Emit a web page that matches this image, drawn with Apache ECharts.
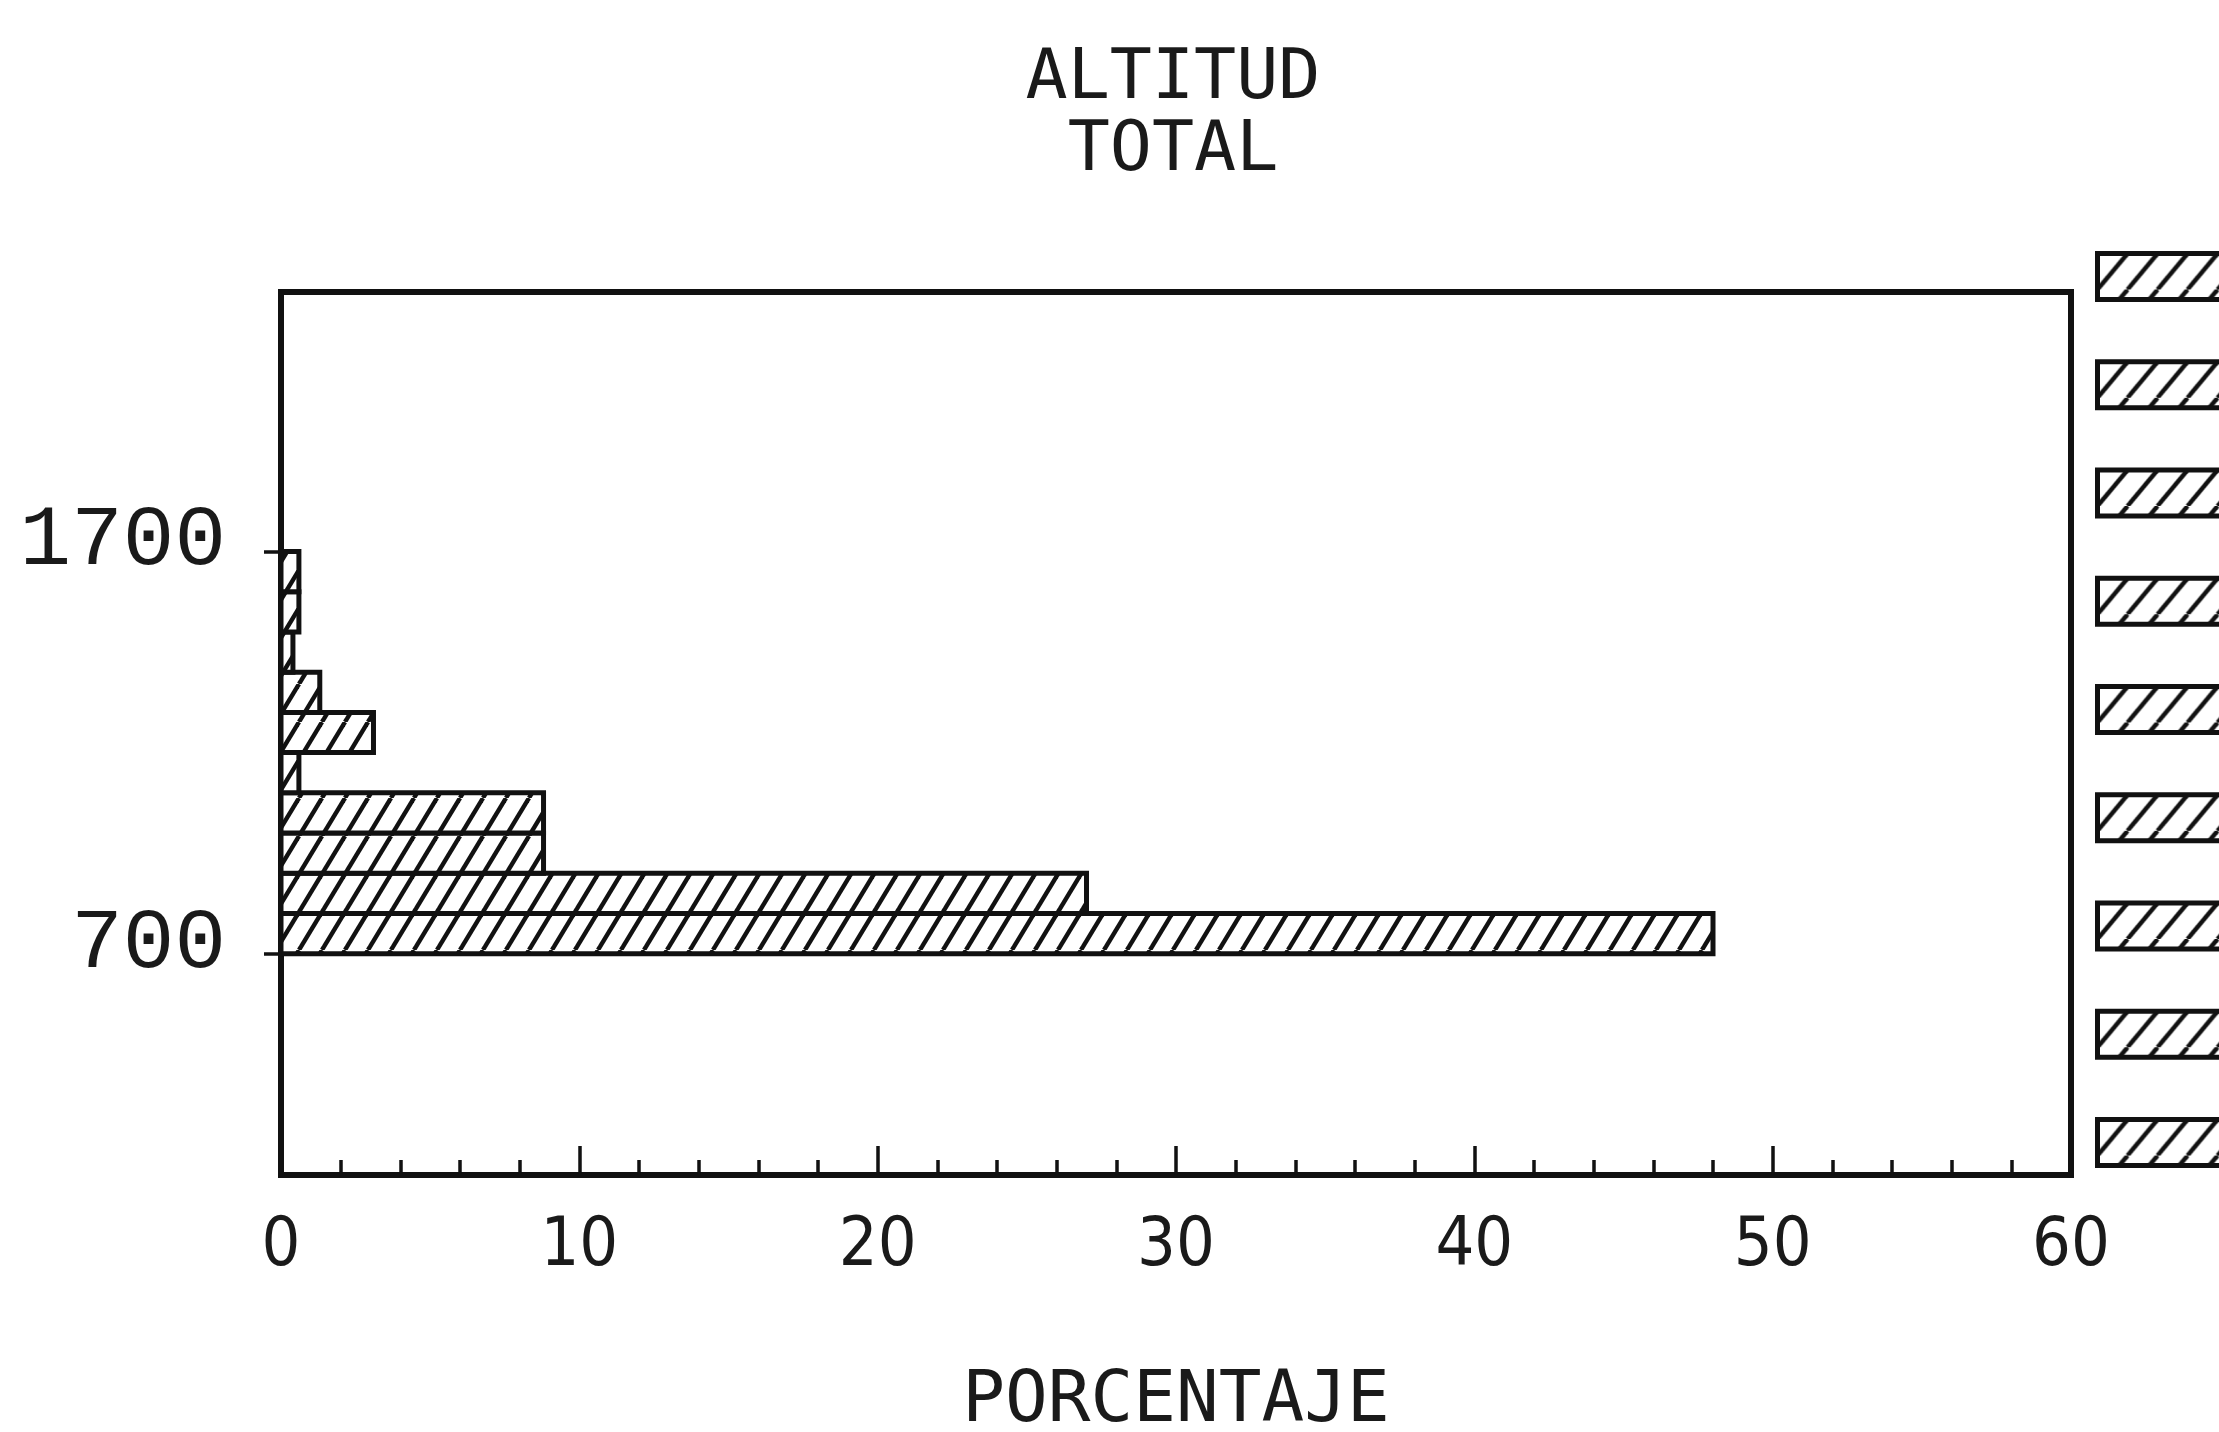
<!DOCTYPE html>
<html>
<head>
<meta charset="utf-8">
<title>ALTITUD TOTAL</title>
<script src="https://cdn.jsdelivr.net/npm/echarts@6/dist/echarts.min.js"></script>
<style>
  html, body { margin: 0; padding: 0; background: #fff; }
  #chart { width: 2219px; height: 1432px; }
</style>
</head>
<body>
<div id="chart"></div>
<script>
// Altitude classes (m) and share of the total (%)
const binStart = [700, 800, 900, 1000, 1100, 1200, 1300, 1400, 1500, 1600];
const binEnd   = [800, 900, 1000, 1100, 1200, 1300, 1400, 1500, 1600, 1700];
const percent  = [48.0, 27.0, 8.8, 8.8, 0.6, 3.1, 1.3, 0.4, 0.6, 0.6];

// Labelled altitudes on the vertical axis
const altitudeLabels = [700, 1700];

// Legend swatches on the right edge
const legendCount = 9;

const titleText = 'ALTITUD\nTOTAL';
const xName = 'PORCENTAJE';

// Diagonal hatch tile used as fill for bars and swatches
function makeHatch(w, h, lw) {
  const c = document.createElement('canvas');
  c.width = w; c.height = h;
  const g = c.getContext('2d');
  g.fillStyle = '#ffffff';
  g.fillRect(0, 0, w, h);
  g.strokeStyle = '#111111';
  g.lineWidth = lw;
  for (const dx of [-w, 0, w]) {
    g.beginPath();
    g.moveTo(dx, h);
    g.lineTo(dx + w, 0);
    g.stroke();
  }
  return { image: c, repeat: 'repeat' };
}
const hatch = makeHatch(23, 38, 4.4);
const swatchHatch = makeHatch(30, 36, 4.4);

const barData = binStart.map((s, i) => [s, binEnd[i], percent[i]]);

const chart = echarts.init(document.getElementById('chart'), null, { renderer: 'canvas' });

const legendGraphics = [];
for (let i = 0; i < legendCount; i++) {
  legendGraphics.push({
    type: 'rect',
    left: 2095,
    top: 251 + i * 108.25,
    shape: { width: 150, height: 46 },
    style: { fill: swatchHatch, stroke: '#111', lineWidth: 5 }
  });
}

chart.setOption({
  backgroundColor: '#ffffff',
  animation: false,
  title: {
    text: titleText,
    left: 1173,
    top: 44,
    padding: 0,
    textAlign: 'center',
    textStyle: {
      fontFamily: 'DejaVu Sans Mono',
      fontWeight: 'normal',
      fontSize: 70,
      lineHeight: 72,
      color: '#1a1a1a'
    }
  },
  grid: {
    left: 281,
    right: 148,
    top: 292,
    bottom: 257,
    outerBoundsMode: 'none',
    containLabel: false,
    show: true,
    borderColor: '#111',
    borderWidth: 6,
    backgroundColor: 'transparent'
  },
  xAxis: {
    type: 'value',
    min: 0,
    max: 60,
    interval: 10,
    name: xName,
    nameLocation: 'middle',
    nameGap: 192,
    nameTextStyle: {
      fontFamily: 'DejaVu Sans Mono',
      fontSize: 71,
      color: '#1a1a1a'
    },
    axisLine: { show: false },
    axisTick: { show: true, inside: true, length: 29, lineStyle: { color: '#111', width: 3.5 } },
    minorTick: { show: true, splitNumber: 5, length: 15, lineStyle: { color: '#111', width: 3.5 } },
    splitLine: { show: false },
    axisLabel: {
      margin: 38,
      fontFamily: '"DejaVu Sans Condensed", "DejaVu Sans", sans-serif',
      fontSize: 68,
      color: '#1a1a1a'
    }
  },
  yAxis: {
    type: 'value',
    min: 150,
    max: 2345,
    axisLine: { show: false },
    splitLine: { show: false },
    axisTick: {
      show: true,
      inside: false,
      length: 17,
      customValues: altitudeLabels,
      lineStyle: { color: '#111', width: 3.5 }
    },
    axisLabel: {
      show: true,
      customValues: altitudeLabels,
      formatter: function (v) { return String(v); },
      margin: 55,
      verticalAlign: 'bottom',
      lineHeight: 20,
      fontFamily: 'Liberation Mono',
      fontSize: 86,
      color: '#1a1a1a'
    }
  },
  graphic: legendGraphics,
  series: [{
    type: 'custom',
    data: barData,
    encode: { x: 2, y: [0, 1] },
    renderItem: function (params, api) {
      const lo = api.value(0);
      const hi = api.value(1);
      const v = api.value(2);
      const topLeft = api.coord([0, hi]);
      const bottomRight = api.coord([v, lo]);
      return {
        type: 'rect',
        shape: {
          x: topLeft[0],
          y: topLeft[1],
          width: bottomRight[0] - topLeft[0],
          height: bottomRight[1] - topLeft[1]
        },
        style: { fill: hatch, stroke: '#111', lineWidth: 5 }
      };
    }
  }]
});
</script>
</body>
</html>
